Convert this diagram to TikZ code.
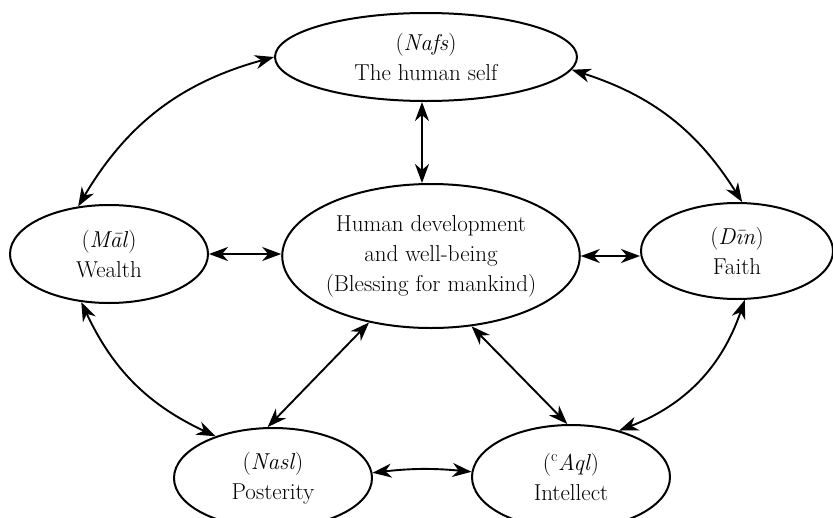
\documentclass[tikz,border=0pt]{standalone}
\usetikzlibrary{shapes.geometric,arrows.meta}
\begin{document}
\begin{tikzpicture}[x=1pt,y=-1pt,
  goal/.style={ellipse, draw, line width=2pt, inner sep=0pt, align=center,
    font=\fontsize{23}{30}\selectfont},
  link/.style={{Stealth[length=19pt,width=14pt,inset=6pt]}-{Stealth[length=19pt,width=14pt,inset=6pt]},
    line width=1.9pt}]
\useasboundingbox (0,0) rectangle (833,517);
\clip (0,0) rectangle (833,517);

% the six goals
\node[goal, minimum width=302pt, minimum height=88pt] (self) at (426,57)
  {(\textit{Nafs})\\The human self};
\node[goal, minimum width=296pt, minimum height=144pt] (core) at (431,256)
  {Human development\\and well-being\\(Blessing for mankind)};
\node[goal, minimum width=198pt, minimum height=98pt] (wealth) at (109,254)
  {(\textit{M\=al})\\Wealth};
\node[goal, minimum width=192pt, minimum height=96pt] (faith) at (737,251)
  {(\textit{D\={\i}n})\\Faith};
\node[goal, minimum width=198pt, minimum height=100pt] (post) at (273,478)
  {(\textit{Nasl})\\Posterity};
\node[goal, minimum width=198pt, minimum height=104pt] (intel) at (571,477)
  {(\textsuperscript{c}\textit{Aql})\\Intellect};

% outer ring
\draw[link] (self.west) to[bend right=22] (wealth.123);
\draw[link] (self.355) to[bend left=20] (faith.84);
\draw[link] (wealth.240) to[bend right=20] (post.144);
\draw[link] (faith.279) to[bend left=25] (intel.44);
\draw[link] (post.3) to[bend left=6] (intel.177);

% spokes to the centre
\draw[link] ([xshift=-4pt]self.south) -- ([xshift=-4pt]self.south |- core.north);
\draw[link] (wealth.east) -- (wealth.east -| core.west);
\draw[link] (core.east) -- (core.east -| faith.west);
\draw[link] (core.227) -- (post.96);
\draw[link] (core.300) -- (intel.94);
\end{tikzpicture}
\end{document}
